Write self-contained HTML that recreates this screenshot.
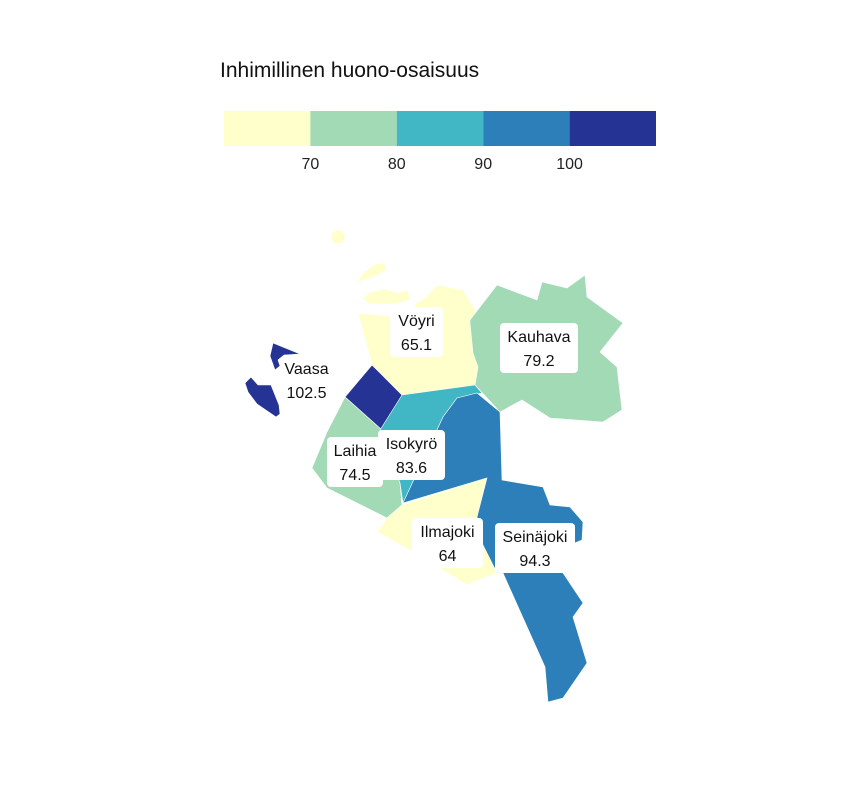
<!DOCTYPE html>
<html><head><meta charset="utf-8">
<style>
html,body{margin:0;padding:0;background:#fff;}
svg{display:block;font-family:"Liberation Sans",sans-serif;}
</style></head>
<body>
<svg id="chart" width="864" height="792" viewBox="0 0 864 792">
  <text x="220" y="77" font-size="21" fill="#111">Inhimillinen huono-osaisuus</text>
  <g id="legend"></g>
  <g id="regions"></g>
  <g id="labels"></g>
</svg>
<script>
const names = ["Vöyri","Kauhava","Vaasa","Laihia","Isokyrö","Ilmajoki","Seinäjoki"];
const values = [65.1, 79.2, 102.5, 74.5, 83.6, 64, 94.3];
const breaks = [70, 80, 90, 100];
const colors = ["#ffffcc","#a1dab4","#41b6c4","#2c7fb8","#253494"];
const tickLabels = ["70","80","90","100"];

// geometry (shapes, not data)
const shapes = {
 "Vöyri":["M358,313 L390,316 L410,311 L418,302 L425,298 L437,285 L463,290 L477,313 L470,323 L473,353 L478,367 L475,385 L402,395 L372,365 Z",
          "M363,298 L370,292 L385,289 L397,293 L408,290 L410,300 L395,304 L368,304 Z",
          "M357,283 L363,273 L375,264 L385,263 L386,270 L378,275 L366,279 Z",
          "M338,230 a7,7 0 1,0 0.1,0 Z"],
 "Kauhava":["M470,320 L497,285 L537,300 L542,282 L567,288 L585,275 L587,297 L623,323 L600,352 L617,367 L622,410 L603,422 L550,418 L522,400 L500,412 L475,385 L478,367 L473,353 L470,323 Z"],
 "Vaasa":["M372,365 L402,395 L382,430 L345,397 Z",
          "M273,343 L300,354 L284,355 L278,360 L280,366 L275,370 L270,356 Z",
          "M245,383 L251,377 L258,385 L271,385 L279,405 L280,414 L276,417 L257,404 L248,392 Z"],
 "Laihia":["M345,397 L382,430 L400,483 L402,505 L387,518 L327,488 L312,468 L327,432 Z"],
 "Isokyrö":["M402,395 L475,385 L482,393 L457,398 L443,417 L403,503 L400,483 L380,430 Z"],
 "Ilmajoki":["M402,505 L487,478 L477,517 L483,545 L497,573 L478,580 L467,585 L410,550 L377,532 L387,518 Z"],
 "Seinäjoki":["M457,398 L477,393 L500,412 L502,480 L543,487 L550,505 L570,507 L583,522 L582,540 L570,545 L563,573 L583,603 L573,617 L587,663 L563,698 L548,702 L545,667 L503,573 L497,573 L483,545 L477,517 L487,478 L403,503 L443,417 Z"]
};
const labelBoxes = {
 "Vöyri":[390,307,53,50],"Kauhava":[500,323,78,50],"Vaasa":[283,355,47,50],
 "Laihia":[327,437,56,50],"Isokyrö":[378,430,67,50],"Ilmajoki":[412,518,71,50],"Seinäjoki":[495,523,80,50]
};
const NS="http://www.w3.org/2000/svg";
function colorFor(v){let i=0;while(i<breaks.length&&v>=breaks[i])i++;return colors[i];}

const lg=document.getElementById('legend');
const lx0=224,lx1=656,ly=111,lh=35,segW=(lx1-lx0)/colors.length;
colors.forEach((c,i)=>{
  const r=document.createElementNS(NS,'rect');
  r.setAttribute('x',lx0+i*segW);r.setAttribute('y',ly);r.setAttribute('width',segW);r.setAttribute('height',lh);r.setAttribute('fill',c);
  
  
  lg.appendChild(r);
});
tickLabels.forEach((t,i)=>{
  const tx=document.createElementNS(NS,'text');
  tx.setAttribute('x',lx0+(i+1)*segW);tx.setAttribute('y',169);tx.setAttribute('text-anchor','middle');tx.setAttribute('font-size','16');tx.setAttribute('fill','#222');
  tx.textContent=t;
  
  
  lg.appendChild(tx);
});

const rg=document.getElementById('regions');
names.forEach((n,i)=>{
  shapes[n].forEach(d=>{
    const p=document.createElementNS(NS,'path');
    p.setAttribute('d',d);p.setAttribute('fill',colorFor(values[i]));p.setAttribute('stroke','#fff');p.setAttribute('stroke-width','0.6');
    
    
    rg.appendChild(p);
  });
});

const lb=document.getElementById('labels');
names.forEach((n,i)=>{
  const b=labelBoxes[n];
  const r=document.createElementNS(NS,'rect');
  r.setAttribute('x',b[0]);r.setAttribute('y',b[1]);r.setAttribute('width',b[2]);r.setAttribute('height',b[3]);r.setAttribute('rx','4');r.setAttribute('fill','#fff');
  
  
  lb.appendChild(r);
  const cx=b[0]+b[2]/2;
  const t1=document.createElementNS(NS,'text');
  t1.setAttribute('x',cx);t1.setAttribute('y',b[1]+19);t1.setAttribute('text-anchor','middle');t1.setAttribute('font-size','16');t1.setAttribute('fill','#111');
  t1.textContent=n;
  
  
  lb.appendChild(t1);
  const t2=document.createElementNS(NS,'text');
  t2.setAttribute('x',cx);t2.setAttribute('y',b[1]+43);t2.setAttribute('text-anchor','middle');t2.setAttribute('font-size','16');t2.setAttribute('fill','#111');
  t2.textContent=String(values[i]);
  
  
  lb.appendChild(t2);
});
</script>
</body></html>
